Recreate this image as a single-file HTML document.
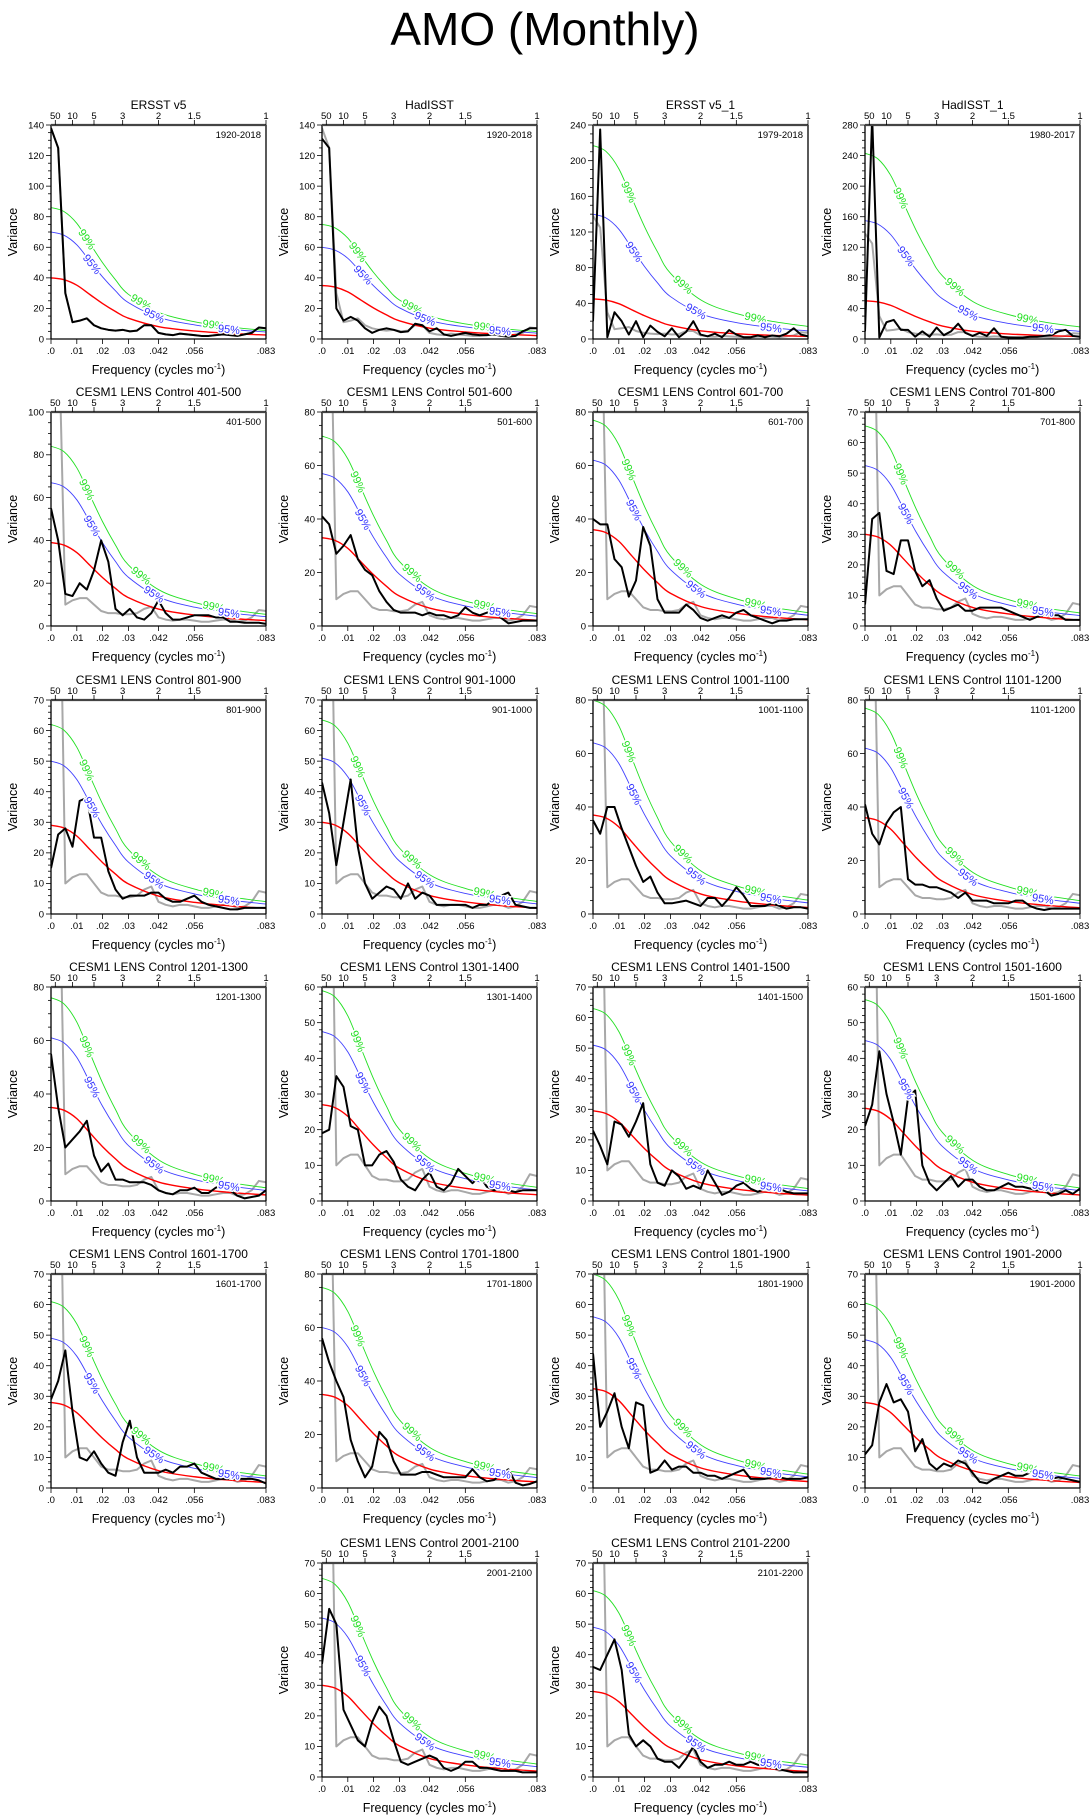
<!DOCTYPE html>
<html><head><meta charset="utf-8"><title>AMO (Monthly)</title>
<style>
html,body{margin:0;padding:0;background:#fff;}
svg{display:block;font-family:"Liberation Sans",Arial,sans-serif;}
</style></head>
<body>
<svg id="fig" width="1090" height="1817" viewBox="0 0 1090 1817">
<text x="545" y="45" text-anchor="middle" font-size="46" fill="#000">AMO (Monthly)</text>
</svg>
<script>
// ---------- data ----------
const panelTitles = ["ERSST v5","HadISST","ERSST v5_1","HadISST_1",
 "CESM1 LENS Control 401-500","CESM1 LENS Control 501-600","CESM1 LENS Control 601-700","CESM1 LENS Control 701-800",
 "CESM1 LENS Control 801-900","CESM1 LENS Control 901-1000","CESM1 LENS Control 1001-1100","CESM1 LENS Control 1101-1200",
 "CESM1 LENS Control 1201-1300","CESM1 LENS Control 1301-1400","CESM1 LENS Control 1401-1500","CESM1 LENS Control 1501-1600",
 "CESM1 LENS Control 1601-1700","CESM1 LENS Control 1701-1800","CESM1 LENS Control 1801-1900","CESM1 LENS Control 1901-2000",
 "CESM1 LENS Control 2001-2100","CESM1 LENS Control 2101-2200"];
const panelRanges = ["1920-2018","1920-2018","1979-2018","1980-2017","401-500","501-600","601-700","701-800",
 "801-900","901-1000","1001-1100","1101-1200","1201-1300","1301-1400","1401-1500","1501-1600",
 "1601-1700","1701-1800","1801-1900","1901-2000","2001-2100","2101-2200"];
const yMaxes = [140,140,240,280,100,80,80,70,70,70,80,80,80,60,70,60,70,80,70,70,70,70];
const yMajor = [20,20,40,40,20,20,20,10,10,10,20,20,20,10,10,10,10,20,10,10,10,10];
const redStart = [40,35,45,50,39,33,36,30,29,30,37,36,35,27,29.5,26,28,35,32.5,28,30,28];
const s95Start = [70,60,140,155,67,57,62,52.5,50,51,64,62,61,47.5,51,45,49,60,56,48.5,52,49];
const s99Start = [86,75,217,243,84,71,77,65.5,62,63.5,80,77,76,59,63,56.5,61,75,70,60.5,65,61];
const shapeFreqs = [0,0.005,0.01,0.015,0.02,0.025,0.03,0.042,0.056,0.07,0.0833];
const redShape = [1,0.97,0.88,0.73,0.58,0.45,0.34,0.2,0.13,0.09,0.065];
const freqStep = 1/360; // spectral sample spacing (cycles/mo) for series below (31 samples)
const grayObs = [138,125,30,11,12,13.5,9,7,6,5.5,6,5,5.5,9,9,4,3,2.5,3.5,3,2.5,2,2,2.5,3,2.5,2,3,4,7.5,7];
const grayCtrl = [150,150,10,12,13,13,10,7,6,6,5.5,5.5,6,8,9,4,3,2.5,3,3,2.5,2,2,2.5,3,3,2,2.5,4,7.5,7];
const blackSeries = [
 [138,125,30,11,12,13.5,9,7,6,5.5,6,5,5.5,9,9,4,3,2.5,3.5,3,2.5,2,2,2.5,3,2.5,2,3,4,7.5,7],
 [131,125,20,12,14.5,12,7,4,6,7,6,4.5,5,10,9,5,7,3,2,3,4,3,2.5,2.5,3,2,1.5,2,5,7,7],
 [20,235,2,30,20,5,20,2,15,8,3,12,2,8,20,5,3,6,2,10,5,2,2,4,2,4,3,6,12,5,3],
 [10,290,2,22,25,12,12,3,10,3,15,5,10,20,8,4,8,4,14,3,2,2,2,3,3,4,5,10,12,4,3],
 [55,40,15,14,20,17,26,40,30,8,5,8,4,3,6,12,6,3,3,4,5,5,5,4,4,2,2,1.5,1.5,1.5,1],
 [41,38,27,30,34,25,21,19,13,9,6,5,5,5,4,5,4,4,3,4,7,5,4,5,6,3,1,1.5,2,2,2],
 [40,38,38,25,22,11,17,37,30,10,5,5,5,8,6,3,2,3,4,3,5,6,4,3,2,1,2,2,2.5,2.5,2.5],
 [7,35,37,18,17,28,28,18,13,15,9,5,6,7,5,5,6,6,6,6,5,4,3,2,3,3.5,3.5,3.5,2,2,2],
 [15,26,28,22,37,38,25,25,14,8,5,6,6,6,7,7,5,4,4,5,6,4,3,2.5,2,1.5,1.5,2,2,2,2],
 [43,33,16,30,44,22,10,5,7,9,8,5,10,5,7,6,3,3,3,3,3,2,3,3,5,6,7,3,2.5,2,2],
 [35,30,40,40,32,25,18,12,14,8,4,4,4.5,5,4,3,6,6,3,6,10,7,3,3,3,4,3,2,2.5,2.5,2],
 [41,30,26,34,38,40,13,11,11,10,10,9,8,6,8,5,5,5,4,4,4,5,5,3,2,1.5,2,2,2,2,2],
 [55,35,20,23,26,30,17,11,14,8,8,7,7,7,6,4,3,2.5,4,4,5,3,3,5,6,4,2,1,1.5,2,4],
 [19,20,35,32,21,20,10,10,13,14,11,6,4,3,6,8,4,3,5,9,7,5,7,4,3,4,3,2.5,3,3,3],
 [23,18,12,26,25,21,26,32,12,6,5,10,8,4,5,4,10,6,2,3,5,6,4,3,4,5,4,3,2.5,2.5,2.5],
 [21,27,42,30,22,13,29,31,10,5,3,5,7,4,6,6,4,3,3,4,5,4,4,3.5,3,3,1.5,2,3,2,3.5],
 [29,35,45,25,10,9,12,8,5,4,15,22,10,5,5,5,6,5,7,7,8,5,4,3,3,3,3,3,3,2.5,1.5],
 [56,47,40,34,18,10,4,8,21,18,10,5,5,5,6,6,5,4,4,4,4,7,4,2.5,3,5,7,2,1,1.5,2.5],
 [44,20,25,31,20,13,28,27,5,6,9,6,7,7,5,5,4,4,3,4,5,6,3,3,3,3.5,3.5,3,3,3,3.5],
 [11,14,28,34,28,29,25,12,16,8,6,8,7,9,8,5,2,1.5,3,4,5,4,4,5,6,4,3,3.5,3,2.5,2],
 [37,55,50,22,17,12,10,18,23,20,12,5,4,5,6,7,6,3,2,3,5,5,3,3,2.5,2,2,2,1.5,1.5,1.5],
 [36,35,40,45,35,14,10,12,10,6,5,5,3,6,10,5,3,4,4,5,4,4,5,4,3.5,3,2.5,2,1.5,1.5,1.5]
];
const xTickVals = [0,0.01,0.02,0.03,1/24,1/18,1/12];
const xTickLabels = [".0",".01",".02",".03",".042",".056",".083"];
const periodLabels = [50,10,5,3,2,1.5,1];
const label99Freqs = [0.014,0.035,0.063];
const label95Freqs = [0.016,0.040,0.069];

// ---------- layout ----------
const NS = "http://www.w3.org/2000/svg";
const svg = document.getElementById("fig");
const colL = [51,322,593,865];
const rowT = [125,412,700,987,1274,1563];
const PW = 215, PH = 214, XMAX = 1/12;

function mk(tag, attrs, parent){
  const e = document.createElementNS(NS, tag);
  for (const k in attrs) e.setAttribute(k, attrs[k]);
  parent.appendChild(e);
  return e;
}
function interpShape(f){
  for (let k=0;k<shapeFreqs.length-1;k++){
    if (f<=shapeFreqs[k+1]){
      const t=(f-shapeFreqs[k])/(shapeFreqs[k+1]-shapeFreqs[k]);
      return redShape[k]+t*(redShape[k+1]-redShape[k]);
    }
  }
  return redShape[redShape.length-1];
}
function smoothPath(pts){
  let d = "M"+pts[0][0].toFixed(2)+" "+pts[0][1].toFixed(2);
  for (let i=0;i<pts.length-1;i++){
    const p0=pts[Math.max(0,i-1)], p1=pts[i], p2=pts[i+1], p3=pts[Math.min(pts.length-1,i+2)];
    const c1=[p1[0]+(p2[0]-p0[0])/6, p1[1]+(p2[1]-p0[1])/6];
    const c2=[p2[0]-(p3[0]-p1[0])/6, p2[1]-(p3[1]-p1[1])/6];
    d += " C"+c1[0].toFixed(2)+" "+c1[1].toFixed(2)+" "+c2[0].toFixed(2)+" "+c2[1].toFixed(2)+" "+p2[0].toFixed(2)+" "+p2[1].toFixed(2);
  }
  return d;
}

panelTitles.forEach((title, p) => {
  let row, col;
  if (p < 20){ row = Math.floor(p/4); col = p%4; } else { row = 5; col = p-19; }
  const L = colL[col], T = rowT[row];
  const ymax = yMaxes[p];
  const xs = f => L + f/XMAX*PW;
  const ys = v => T + PH - v/ymax*PH;

  const g = mk("g", {}, svg);
  
  

  const clipId = "clip"+p;
  const cp = mk("clipPath", {id:clipId}, g);
  mk("rect", {x:L, y:T, width:PW, height:PH}, cp);

  // title
  const tt = mk("text", {x:L+PW/2, y:T-16, "text-anchor":"middle", "font-size":"12"}, g);
  tt.textContent = title;
  
  

  // range label
  const rl = mk("text", {x:L+PW-5, y:T+13, "text-anchor":"end", "font-size":"9.5"}, g);
  rl.textContent = panelRanges[p];
  
  

  // series group
  const sg = mk("g", {"clip-path":"url(#"+clipId+")"}, g);

  // gray reference spectrum
  const grayVals = p < 4 ? grayObs : grayCtrl;
  const gp = mk("polyline", {points: grayVals.map((v,i)=>xs(i*freqStep).toFixed(2)+","+ys(v).toFixed(2)).join(" "),
    fill:"none", stroke:"#a8a8a8", "stroke-width":"2", "stroke-linejoin":"round"}, sg);
  
  

  // theoretical curves
  const curves = [[redStart[p], "#ff0000", 1.4, "red-noise-line"], [s95Start[p], "#4040ff", 0.9, "95-percent-line"], [s99Start[p], "#22e022", 0.9, "99-percent-line"]];
  curves.forEach(c => {
    const pts = shapeFreqs.map((f,k)=>[xs(f), ys(c[0]*redShape[k])]);
    const pe = mk("path", {d:smoothPath(pts), fill:"none", stroke:c[1], "stroke-width":c[2]}, sg);
    
    
  });

  // black spectrum
  const bp = mk("polyline", {points: blackSeries[p].map((v,i)=>xs(i*freqStep).toFixed(2)+","+ys(v).toFixed(2)).join(" "),
    fill:"none", stroke:"#000", "stroke-width":"2", "stroke-linejoin":"round"}, sg);
  
  

  // curve labels
  [[label99Freqs, s99Start[p], "#22e022", "99%"], [label95Freqs, s95Start[p], "#3030ff", "95%"]].forEach(lc => {
    lc[0].forEach(f => {
      const x = xs(f), y = ys(lc[1]*interpShape(f));
      const dx = xs(f+0.002)-xs(f-0.002);
      const dy = ys(lc[1]*interpShape(f+0.002))-ys(lc[1]*interpShape(Math.max(0,f-0.002)));
      const ang = Math.atan2(dy, dx)*180/Math.PI;
      const lt = mk("text", {x:x, y:y+4, "text-anchor":"middle", "font-size":"11", fill:lc[2],
        stroke:"#fff", "stroke-width":"3", "paint-order":"stroke",
        transform:"rotate("+ang.toFixed(1)+" "+x.toFixed(1)+" "+y.toFixed(1)+")"}, sg);
      lt.textContent = lc[3];
      
      
    });
  });

  // frame
  mk("line", {x1:L, y1:T+PH, x2:L+PW, y2:T+PH, stroke:"#000", "stroke-width":"1.3"}, g);
  mk("line", {x1:L, y1:T, x2:L, y2:T+PH, stroke:"#000", "stroke-width":"1.3"}, g);
  mk("line", {x1:L+PW, y1:T, x2:L+PW, y2:T+PH, stroke:"#000", "stroke-width":"1.3"}, g);
  mk("line", {x1:L, y1:T, x2:L+PW, y2:T, stroke:"#444", "stroke-width":"2.2"}, g);

  // y ticks
  const major = yMajor[p];
  const minor = major===10 ? 2 : major/4;
  for (let v=0; v<=ymax+1e-6; v+=minor){
    const isMaj = Math.abs(v/major - Math.round(v/major)) < 1e-6;
    mk("line", {x1:L, y1:ys(v), x2:L-(isMaj?5:3), y2:ys(v), stroke:"#000", "stroke-width":"0.8"}, g);
    if (isMaj){
      const tl = mk("text", {x:L-7, y:ys(v)+3.3, "text-anchor":"end", "font-size":"9.5"}, g);
      tl.textContent = String(Math.round(v));
      
      
    }
  }
  // x ticks bottom
  xTickVals.forEach((f,i) => {
    mk("line", {x1:xs(f), y1:T+PH, x2:xs(f), y2:T+PH+5, stroke:"#000", "stroke-width":"0.8"}, g);
    const xl = mk("text", {x:xs(f), y:T+PH+15, "text-anchor":"middle", "font-size":"9.5"}, g);
    xl.textContent = xTickLabels[i];
    
    
  });
  // top period ticks
  periodLabels.forEach(pr => {
    const f = 1/(12*pr);
    mk("line", {x1:xs(f), y1:T, x2:xs(f), y2:T-5, stroke:"#000", "stroke-width":"0.8"}, g);
    const pl = mk("text", {x:xs(f), y:T-6, "text-anchor":"middle", "font-size":"9.5"}, g);
    pl.textContent = String(pr);
    
    
  });
  // axis titles
  const xt = mk("text", {x:L+PW/2, y:T+PH+35, "text-anchor":"middle", "font-size":"12.5"}, g);
  xt.innerHTML = 'Frequency (cycles mo<tspan dy="-5" font-size="8">-1</tspan><tspan dy="5">)</tspan>';
  
  
  const yt = mk("text", {x:L-34, y:T+PH/2, "text-anchor":"middle", "font-size":"12.5",
    transform:"rotate(-90 "+(L-34)+" "+(T+PH/2)+")"}, g);
  yt.textContent = "Variance";
  
  
});
</script>
</body></html>
